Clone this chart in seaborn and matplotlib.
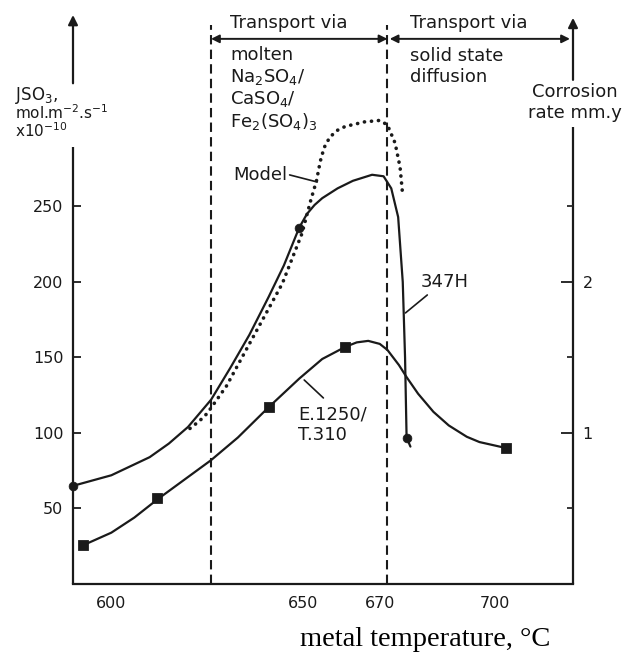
import matplotlib
matplotlib.use("Agg")
import matplotlib.pyplot as plt
import seaborn as sns
import pandas as pd

# 347H measured flux curve (metal temperature, °C -> J_SO3 x1e-10)
h347_temp = [590, 600, 610, 615, 620, 626, 631, 636, 641, 645, 649, 651,
             653, 655, 659, 663, 668, 671, 673, 674.8, 676, 676.6, 677, 678]
h347_flux = [65, 72, 84, 93, 104, 122, 143, 165, 190, 211, 236, 245,
             251, 255.5, 262, 267, 271, 270, 262, 243, 200, 150, 97, 91]
h347_pt_temp = [590, 649, 677]
h347_pt_flux = [65, 236, 97]

# Model prediction (dotted)
model_temp = [620.5, 623, 625, 630, 636, 644.6, 649.7, 652, 653.5, 654.5,
              655.5, 657, 659, 661, 666, 670, 672, 674, 675.3, 676]
model_flux = [103, 108, 113, 131, 159, 199, 232, 254, 267, 280,
              289, 296, 300.5, 303, 306, 307, 304, 292, 276, 257]

# E.1250/T.310 curve
e_temp = [592.5, 600, 606, 612, 619, 626, 633, 641, 649, 655, 661, 664,
          667, 670, 672, 675, 677, 680, 684, 688, 692.7, 696, 699.5, 703]
e_flux = [25.5, 34, 44, 56, 69, 82, 97, 117, 136, 149, 157, 160,
          161, 159, 155, 145, 137, 126, 114, 105, 97.5, 94, 92, 90]
e_pt_temp = [592.5, 612, 641, 661, 703]
e_pt_flux = [25.5, 57, 117, 157, 90]

# Regime boundaries
boundaries = [626, 672]

x_major = [600, 650, 700]
x_minor = [600, 610, 620, 630, 640, 650, 660, 670, 680, 690, 700, 710]
y_ticks = [50, 100, 150, 200, 250]
rate_major = [1, 2]
rate_minor = [0.5, 1.5, 2.5]

XMIN, XMAX = 590, 720.4
YMAX = 376.8
FLUX_PER_RATE = 100.0

sns.set_style("white")
plt.rcParams["font.family"] = ["DejaVu Sans"]
INK = "#1a1a1a"

fig = plt.figure(figsize=(6.33, 6.55), dpi=100)
ax = fig.add_axes([73 / 633, 1 - 584 / 655, 500 / 633, 569 / 655])
ax.set_facecolor("white")

h347 = pd.DataFrame({"t": h347_temp, "j": h347_flux})
model = pd.DataFrame({"t": model_temp, "j": model_flux})
e1250 = pd.DataFrame({"t": e_temp, "j": e_flux})

sns.lineplot(data=h347, x="t", y="j", sort=False, ax=ax, color=INK, lw=1.6)
sns.lineplot(data=e1250, x="t", y="j", sort=False, ax=ax, color=INK, lw=1.6)
sns.lineplot(data=model, x="t", y="j", sort=False, ax=ax, color=INK, lw=2.6,
             linestyle=(0, (0.05, 1.9)), dash_capstyle="round")
sns.scatterplot(x=h347_pt_temp, y=h347_pt_flux, ax=ax, color=INK, marker="o",
                s=40, edgecolor=INK, zorder=5, clip_on=False)
sns.scatterplot(x=e_pt_temp, y=e_pt_flux, ax=ax, color=INK, marker="s",
                s=50, edgecolor=INK, zorder=5, clip_on=False)

for b in boundaries:
    ax.plot([b, b], [0, 370], color=INK, lw=1.5, linestyle=(0, (4.5, 2.5)))

ax.set_xlim(XMIN, XMAX)
ax.set_ylim(0, YMAX)
ax.set_xlabel("")
ax.set_ylabel("")

# Axis ticks
ax.set_xticks(x_major)
ax.set_xticklabels([str(v) for v in x_major])
ax.set_xticks(x_minor, minor=True)
ax.set_xticklabels(["670" if v == 670 else "" for v in x_minor], minor=True)
ax.set_yticks(y_ticks)
ax.set_yticklabels([str(v) for v in y_ticks])
ax.tick_params(axis="x", which="major", direction="in", length=7, width=1.3,
               pad=9, labelsize=11.5, colors=INK)
ax.tick_params(axis="x", which="minor", direction="in", length=3.5, width=1.3,
               pad=9, labelsize=11.5, colors=INK)
ax.tick_params(axis="y", which="major", direction="in", length=6, width=1.3,
               pad=7, labelsize=11.5, colors=INK, left=True)

for s in ["top", "right", "left"]:
    ax.spines[s].set_visible(False)
ax.spines["bottom"].set_color(INK)
ax.spines["bottom"].set_linewidth(1.6)

# Secondary (corrosion rate) axis
ax2 = ax.twinx()
ax2.set_ylim(0, YMAX / FLUX_PER_RATE)
ax2.set_yticks(rate_major)
ax2.set_yticklabels([str(v) for v in rate_major])
ax2.set_yticks(rate_minor, minor=True)
ax2.tick_params(axis="y", which="major", direction="in", length=9, width=1.3,
                pad=7, labelsize=11.5, colors=INK, right=True)
ax2.tick_params(axis="y", which="minor", direction="in", length=4, width=1.3,
                right=True)
for s in ax2.spines.values():
    s.set_visible(False)
ax2.grid(False)

# Axis lines with gaps for the titles, ending in arrowheads
arrow = dict(arrowstyle="-|>", color=INK, lw=1.6, mutation_scale=14,
             shrinkA=0, shrinkB=0)
ax.plot([0, 0], [0, 0.768], transform=ax.transAxes, color=INK, lw=1.6,
        clip_on=False, solid_capstyle="butt")
ax.annotate("", xy=(0, 1.0), xytext=(0, 0.880), xycoords="axes fraction",
            arrowprops=arrow, annotation_clip=False)
ax.plot([1, 1], [0, 0.803], transform=ax.transAxes, color=INK, lw=1.6,
        clip_on=False, solid_capstyle="butt")
ax.annotate("", xy=(1, 0.995), xytext=(1, 0.886), xycoords="axes fraction",
            arrowprops=arrow, annotation_clip=False)

# Regime arrows along the top
both = dict(arrowstyle="<|-|>", color=INK, lw=1.4, mutation_scale=12,
            shrinkA=0, shrinkB=0)
ax.annotate("", xy=(672, 361), xytext=(626, 361), arrowprops=both,
            annotation_clip=False)
ax.annotate("", xy=(719.6, 361), xytext=(672.6, 361), arrowprops=both,
            annotation_clip=False)

FS = 13
ax.text(631, 371.5, "Transport via", fontsize=FS, color=INK, va="center")
ax.text(678, 371.5, "Transport via", fontsize=FS, color=INK, va="center")
ax.text(631, 350.3, "molten", fontsize=FS, color=INK, va="center")
ax.text(631, 335.8, r"Na$_2$SO$_4$/", fontsize=FS, color=INK, va="center")
ax.text(631, 321.2, r"CaSO$_4$/", fontsize=FS, color=INK, va="center")
ax.text(631, 306.6, r"Fe$_2$(SO$_4$)$_3$", fontsize=FS, color=INK, va="center")
ax.text(678, 349.5, "solid state", fontsize=FS, color=INK, va="center")
ax.text(678, 335.8, "diffusion", fontsize=FS, color=INK, va="center")

# Curve labels with leaders
ax.text(645.9, 270.9, "Model", fontsize=FS, color=INK, va="center", ha="right")
ax.plot([646.5, 653.7], [270.9, 266.2], color=INK, lw=1.2)
ax.text(680.6, 200, "347H", fontsize=FS, color=INK, va="center")
ax.plot([682.4, 676.7], [191.4, 179.5], color=INK, lw=1.2)
ax.text(648.7, 112, "E.1250/", fontsize=FS, color=INK, va="center")
ax.text(648.7, 98.7, "T.310", fontsize=FS, color=INK, va="center")
ax.plot([655.3, 650.3], [123.2, 135.1], color=INK, lw=1.2)

# Axis titles
fig.text(15 / 633, 1 - 95 / 655, r"JSO$_3$,", fontsize=12,
         color=INK, va="center")
fig.text(15 / 633, 1 - 113 / 655, r"mol.m$^{-2}$.s$^{-1}$", fontsize=11,
         color=INK, va="center")
fig.text(15 / 633, 1 - 131 / 655, r"x10$^{-10}$", fontsize=11,
         color=INK, va="center")
fig.text(575 / 633, 1 - 92 / 655, "Corrosion", fontsize=FS, color=INK,
         va="center", ha="center")
fig.text(575 / 633, 1 - 113 / 655, "rate mm.y", fontsize=FS, color=INK,
         va="center", ha="center")
fig.text(300 / 633, 1 - 639 / 655, "metal temperature, °C", fontsize=20.5,
         family=["Liberation Serif", "DejaVu Serif"], color="black",
         va="center", ha="left")

fig.savefig("out.png", dpi=100, facecolor="white")
